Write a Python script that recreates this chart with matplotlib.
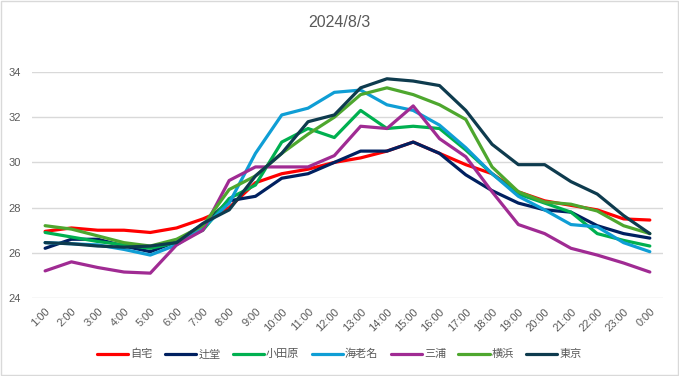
import matplotlib.pyplot as plt
import matplotlib.patches as patches

plt.rcParams["font.family"] = ["Noto Sans CJK JP", "DejaVu Sans"]

# Data
hours = ["1:00", "2:00", "3:00", "4:00", "5:00", "6:00", "7:00", "8:00",
         "9:00", "10:00", "11:00", "12:00", "13:00", "14:00", "15:00", "16:00",
         "17:00", "18:00", "19:00", "20:00", "21:00", "22:00", "23:00", "0:00"]

jitaku = [26.95, 27.1, 27.0, 27.0, 26.9, 27.1, 27.5, 28.0, 29.1, 29.5, 29.7, 30.0,
          30.2, 30.5, 30.9, 30.4, 29.9, 29.5, 28.7, 28.3, 28.1, 27.9, 27.5, 27.45]
tsujido = [26.2, 26.6, 26.6, 26.3, 26.05, 26.5, 27.25, 28.3, 28.5, 29.3, 29.5, 30.0,
           30.5, 30.5, 30.9, 30.4, 29.45, 28.75, 28.2, 27.9, 27.8, 27.2, 26.85, 26.65]
odawara = [26.9, 26.7, 26.5, 26.35, 26.2, 26.45, 27.0, 28.4, 29.0, 30.9, 31.5, 31.1,
           32.3, 31.5, 31.6, 31.5, 30.55, 29.5, 28.6, 28.2, 27.8, 26.85, 26.55, 26.3]
ebina = [26.45, 26.4, 26.35, 26.15, 25.9, 26.35, 27.1, 28.2, 30.4, 32.1, 32.4, 33.1,
         33.2, 32.55, 32.3, 31.65, 30.65, 29.5, 28.5, 27.9, 27.25, 27.15, 26.45, 26.05]
miura = [25.2, 25.6, 25.35, 25.15, 25.1, 26.35, 27.0, 29.2, 29.8, 29.8, 29.8, 30.3,
         31.6, 31.5, 32.5, 31.05, 30.25, 28.7, 27.25, 26.85, 26.2, 25.9, 25.55, 25.15]
yokohama = [27.2, 27.05, 26.75, 26.45, 26.3, 26.6, 27.2, 28.8, 29.4, 30.4, 31.25, 32.0,
            33.0, 33.3, 33.0, 32.55, 31.9, 29.8, 28.7, 28.25, 28.15, 27.85, 27.2, 26.85]
tokyo = [26.45, 26.4, 26.3, 26.25, 26.3, 26.45, 27.3, 27.9, 29.4, 30.4, 31.8, 32.1,
         33.3, 33.7, 33.6, 33.4, 32.3, 30.8, 29.9, 29.9, 29.15, 28.6, 27.65, 26.85]

series = [("自宅", jitaku, "#FF0000"),
          ("辻堂", tsujido, "#002060"),
          ("小田原", odawara, "#00B050"),
          ("海老名", ebina, "#0F9ED5"),
          ("三浦", miura, "#A02B93"),
          ("横浜", yokohama, "#4EA72E"),
          ("東京", tokyo, "#0E3B4E")]

fig = plt.figure(figsize=(6.79, 3.76), dpi=100)
ax = fig.add_axes([0.0471, 0.2074, 0.9293, 0.6011])

x = list(range(len(hours)))
for name, vals, color in series:
    ax.plot(x, vals, color=color, linewidth=2.3, label=name,
            solid_joinstyle="round", solid_capstyle="round")

ax.set_xlim(-0.5, len(hours) - 0.5)
ax.set_ylim(24, 34)
ax.set_yticks([24, 26, 28, 30, 32, 34])
ax.yaxis.grid(True, color="#D9D9D9", linewidth=1)
ax.set_axisbelow(True)
for s in ax.spines.values():
    s.set_visible(False)
ax.tick_params(axis="both", length=0, colors="#595959", labelsize=8)
ax.tick_params(axis="y", pad=8)
ax.set_xticks(x)
ax.set_xticklabels(hours, rotation=45, ha="right", rotation_mode="anchor",
                   family="Liberation Sans")
ax.tick_params(axis="x", pad=6)
for lbl in ax.get_yticklabels():
    lbl.set_family("Liberation Sans")

fig.text(0.5, 0.94, "2024/8/3", ha="center", va="center", fontsize=11.5,
         color="#595959", family="Liberation Sans")

leg = fig.legend(loc="center", bbox_to_anchor=(0.5, 0.058), ncol=7,
                 frameon=False, fontsize=8, handlelength=2.8,
                 handletextpad=0.2, columnspacing=1.1)
for t in leg.get_texts():
    t.set_color("#595959")

# Chart border
fig.patches.append(patches.Rectangle((0.001, 0.002), 0.997, 0.995,
                                     transform=fig.transFigure, fill=False,
                                     edgecolor="#D9D9D9", linewidth=1))

fig.savefig("out.png", dpi=100)
